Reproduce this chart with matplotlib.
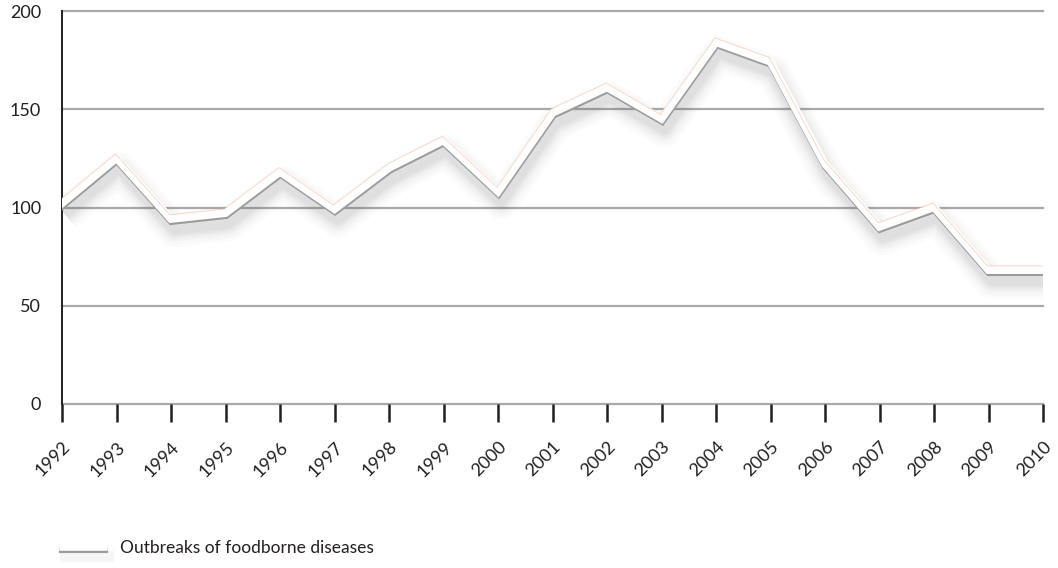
import matplotlib
matplotlib.use("Agg")
import matplotlib.pyplot as plt
import matplotlib.transforms as mtransforms
from matplotlib.lines import Line2D

years = list(range(1992, 2011))
outbreaks = [102, 125, 94, 97, 118, 99, 120, 134, 108, 148, 161, 145,
             184, 174, 122, 90, 100, 68, 68]
y_ticks = [0, 50, 100, 150, 200]
series_label = "Outbreaks of foodborne diseases"

fig = plt.figure(figsize=(10.58, 5.68), dpi=100)
ax = fig.add_axes([62 / 1058, 1 - 404 / 568, (1043 - 62) / 1058, (404 - 11) / 568])
ax.set_xlim(1992, 2010)
ax.set_ylim(0, 200)

# horizontal grid
for v in y_ticks:
    ax.axhline(v, color="#a9a9ab", lw=1.6, zorder=1, clip_on=False)

for s in ["top", "right", "bottom"]:
    ax.spines[s].set_visible(False)
ax.spines["left"].set_color("#231f20")
ax.spines["left"].set_linewidth(1.4)

ax.set_yticks(y_ticks)
ax.set_yticklabels([str(v) for v in y_ticks])
ax.set_xticks(years)
ax.set_xticklabels([str(y) for y in years], rotation=45, ha="right",
                   va="top", rotation_mode="anchor")
ax.tick_params(axis="y", length=0, pad=15, labelsize=13, labelcolor="#231f20")
ax.tick_params(axis="x", length=13, width=1.8, color="#231f20", direction="out",
               pad=12, labelsize=13, labelcolor="#231f20")
for lbl in ax.get_xticklabels() + ax.get_yticklabels():
    lbl.set_family("Lato")

# embossed white line with soft drop shadow
def shifted(dx, dy):
    return mtransforms.offset_copy(ax.transData, fig=fig, x=dx, y=dy, units="dots")

for lw, a in [(34, 0.02), (28, 0.025), (22, 0.03), (17, 0.035), (13, 0.04), (9, 0.045)]:
    ax.plot(years, outbreaks, color="#58595b", lw=lw * 0.72, alpha=a,
            solid_joinstyle="round", solid_capstyle="butt",
            transform=shifted(3, -11), zorder=2)
ax.plot(years, outbreaks, color="#9c9c9f", lw=5.6, solid_joinstyle="miter",
        transform=shifted(0.5, -1.8), zorder=3)
ax.plot(years, outbreaks, color="#ffffff", lw=5.6, solid_joinstyle="miter",
        transform=shifted(0, 0.3), zorder=4)
ax.plot(years, outbreaks, color="#f2b89a", lw=0.6, alpha=0.6,
        transform=shifted(-1, 4.5), zorder=5)

# legend sample and label
lx0, lx1, ly = 62 / 1058, 105 / 1058, 1 - 548 / 568
fig.add_artist(Line2D([lx0 + 0.003, lx1 + 0.003], [ly - 0.014, ly - 0.014],
                      transform=fig.transFigure, color="#58595b", lw=8, alpha=0.06))
fig.add_artist(Line2D([lx0, lx1], [ly - 0.003, ly - 0.003], transform=fig.transFigure,
                      color="#9c9c9f", lw=4.4))
fig.add_artist(Line2D([lx0, lx1], [ly, ly], transform=fig.transFigure,
                      color="#ffffff", lw=4.0))
fig.text(120 / 1058, ly, series_label, fontsize=12.5, family="Lato",
         color="#231f20", va="center", ha="left")

fig.savefig("out.png", dpi=100, facecolor="white")
